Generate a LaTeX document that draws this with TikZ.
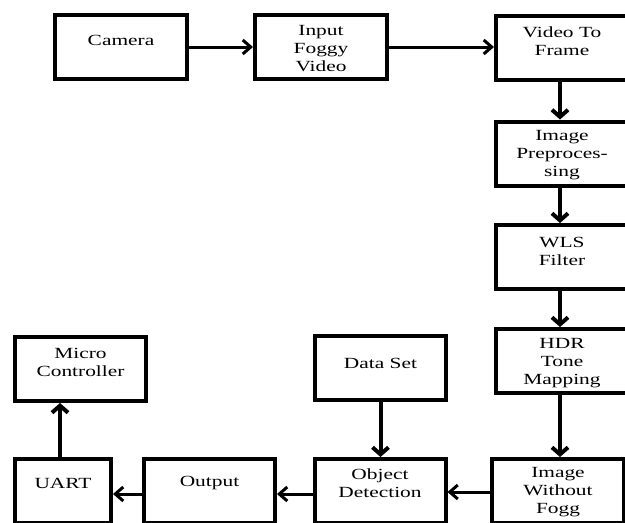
\documentclass[tikz,border=0pt]{standalone}
\usepackage{fontspec}
\setmainfont{Liberation Serif}[FakeStretch=1.38]
\usetikzlibrary{arrows.meta,calc}
\begin{document}
\begin{tikzpicture}[x=1pt,y=-1pt,
  box/.style={draw,line width=4pt,minimum width=#1,minimum height=64pt,inner sep=0pt},
  box/.default=132pt,
  lbl/.style={align=center,font=\fontsize{15.5}{18}\selectfont,inner sep=0pt},
  varr/.style={line width=4pt,-{Straight Barb[length=7pt,width=16pt]}},
  harr/.style={line width=3pt,-{Straight Barb[length=8pt,width=14pt]}}]
\useasboundingbox (0,0) rectangle (625,523);
\clip (0,0) rectangle (625,523);
% boxes
\node[box] (cam) at (121,47) {};
\node[box] (inp) at (321,47) {};
\node[box] (vtf) at (562,47.5) {};
\node[box] (pre) at (562,153.5) {};
\node[box] (wls) at (562,257) {};
\node[box] (hdr) at (562,361) {};
\node[box] (iwf) at (558,491) {};
\node[box=131pt] (obj) at (380,491) {};
\node[box=131pt] (out) at (209.5,491) {};
\node[box=96pt] (uart) at (63,491) {};
\node[box=131pt] (mic) at (80.5,369) {};
\node[box=131pt] (dat) at (380.5,368) {};
% labels
\node[lbl] (tcam) at ($(cam.center)+(0,-7)$) {Camera};
\node[lbl] (tinp) at ($(inp.center)+(0,1.5)$) {Input\\Foggy\\Video};
\node[lbl] (tvtf) at ($(vtf.center)+(0,-6)$) {Video To\\Frame};
\node[lbl] (tpre) at ($(pre.center)+(0,1.5)$) {Image\\Preproces-\\sing};
\node[lbl] (twls) at ($(wls.center)+(0,-6)$) {WLS\\Filter};
\node[lbl] (thdr) at ($(hdr.center)+(0,2)$) {HDR\\Tone\\Mapping};
\node[lbl] (tiwf) at ($(iwf.center)+(0,1)$) {Image\\Without\\Fogg};
\node[lbl] (tobj) at ($(obj.center)+(0,-8)$) {Object\\Detection};
\node[lbl] (tout) at ($(out.center)+(0,-8)$) {Output};
\node[lbl] (tuart) at ($(uart.center)+(0,-8)$) {UART};
\node[lbl] (tmic) at ($(mic.center)+(0,-7)$) {Micro\\Controller};
\node[lbl] (tdat) at ($(dat.center)+(0,-5)$) {Data Set};
% connectors
\draw[harr] (cam.east) -- (inp.west);
\draw[harr] (inp.east) -- (inp.east -| vtf.west);
\draw[varr] ([xshift=-2pt]vtf.south) -- ([xshift=-2pt]vtf.south |- pre.north);
\draw[varr] ([xshift=-2pt]pre.south) -- ([xshift=-2pt]pre.south |- wls.north);
\draw[varr] ([xshift=-2pt]wls.south) -- ([xshift=-2pt]wls.south |- hdr.north);
\draw[varr] ([xshift=-2pt]hdr.south) -- ([xshift=-2pt]hdr.south |- iwf.north);
\draw[harr] ([yshift=-1pt]iwf.west) -- ([yshift=-1pt]iwf.west -| obj.east);
\draw[harr] ([yshift=-3pt]obj.west) -- ([yshift=-3pt]obj.west -| out.east);
\draw[harr] ([yshift=-3pt]out.west) -- ([yshift=-3pt]out.west -| uart.east);
\draw[varr] (dat.south) -- (dat.south |- obj.north);
\draw[varr] ([xshift=-3pt]uart.north) -- ([xshift=-3pt]uart.north |- mic.south);
\end{tikzpicture}
\end{document}
